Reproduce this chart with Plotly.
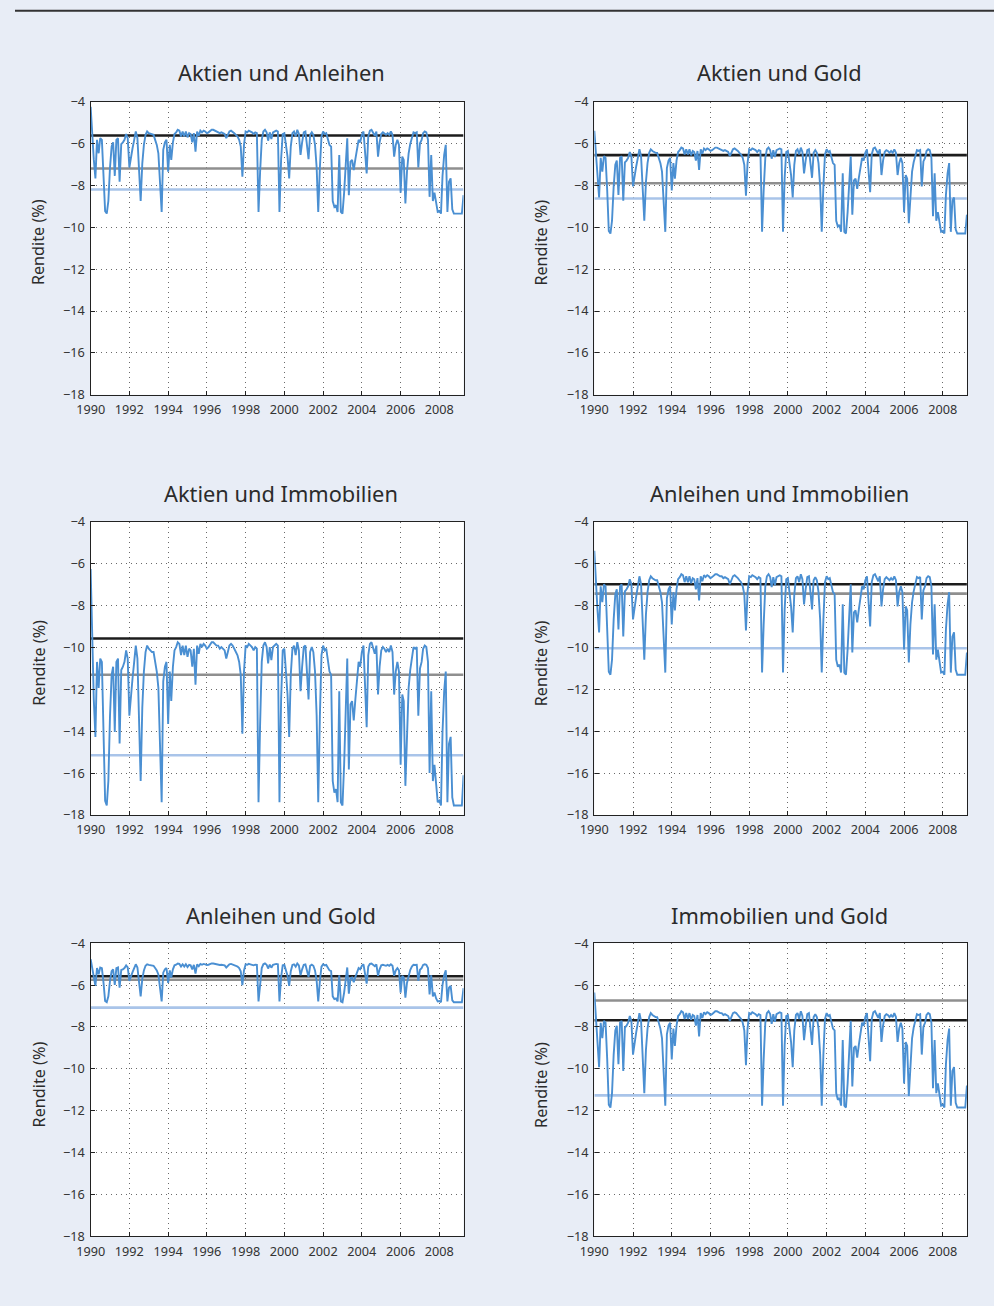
import plotly.graph_objects as go
import pandas as pd

# ---------------- data ----------------
months = pd.date_range("1990-01-01", "2009-04-01", freq="MS")  # monthly observations

titles = ["Aktien und Anleihen", "Aktien und Gold",
          "Aktien und Immobilien", "Anleihen und Immobilien",
          "Anleihen und Gold", "Immobilien und Gold"]

aktien_anleihen = [
    -4.25, -5.75, -6.75, -7.67, -5.83, -6.47, -5.75, -5.83, -7.35, -9.23, -9.35, -8.75,
    -7.15, -6.15, -5.95, -7.55, -5.83, -5.75, -7.83, -6.03, -5.95, -5.83, -5.55, -5.75,
    -7.15, -6.55, -6.23, -5.83, -5.43, -5.75, -7.35, -8.75, -6.95, -6.07, -5.59, -5.43,
    -5.51, -5.55, -5.59, -5.59, -5.83, -6.07, -6.47, -7.75, -9.27, -6.31, -5.95, -5.83,
    -7.35, -6.07, -6.79, -5.95, -5.55, -5.47, -5.35, -5.39, -5.67, -5.43, -5.67, -5.43,
    -5.71, -5.51, -5.55, -5.95, -5.51, -6.39, -5.43, -5.63, -5.39, -5.47, -5.39, -5.43,
    -5.51, -5.47, -5.39, -5.35, -5.35, -5.39, -5.43, -5.43, -5.51, -5.47, -5.51, -5.55,
    -5.75, -5.55, -5.43, -5.39, -5.43, -5.51, -5.59, -5.67, -5.83, -6.15, -7.59, -6.07,
    -5.43, -5.47, -5.39, -5.43, -5.47, -5.55, -5.47, -5.51, -9.27, -7.35, -5.83, -5.43,
    -5.35, -5.47, -5.87, -5.47, -5.79, -5.47, -5.43, -5.39, -5.43, -9.27, -6.75, -5.55,
    -5.51, -6.07, -6.63, -7.67, -6.15, -5.51, -5.43, -5.67, -5.35, -5.55, -6.55, -5.95,
    -5.47, -5.43, -6.07, -6.75, -5.59, -5.47, -5.59, -6.07, -7.15, -9.27, -7.15, -5.67,
    -5.43, -5.55, -5.51, -5.75, -6.07, -6.15, -8.75, -9.03, -8.95, -9.27, -6.55, -9.27,
    -9.35, -8.35, -6.87, -5.75, -8.47, -6.87, -6.79, -7.27, -6.75, -6.35, -5.83, -5.95,
    -5.59, -5.43, -6.23, -7.43, -5.67, -5.39, -5.35, -5.51, -5.63, -5.43, -6.63, -5.95,
    -5.55, -5.47, -5.51, -5.59, -5.51, -5.59, -5.43, -5.59, -6.63, -6.07, -5.83, -6.07,
    -8.35, -6.63, -6.79, -8.87, -7.35, -6.47, -6.03, -5.67, -5.47, -5.51, -5.47, -7.15,
    -5.99, -5.83, -5.51, -5.43, -5.47, -5.83, -8.55, -6.55, -8.75, -8.35, -8.95, -9.27,
    -9.23, -9.35, -7.55, -6.55, -6.07, -9.27, -7.83, -7.67, -9.15, -9.35, -9.35, -9.35,
    -9.35, -9.35, -9.35, -8.47]

aktien_gold = [
    -5.40, -6.61, -7.64, -8.58, -6.69, -7.35, -6.61, -6.69, -8.25, -10.18, -10.30, -9.69,
    -8.05, -7.02, -6.82, -8.46, -6.69, -6.61, -8.74, -6.90, -6.82, -6.69, -6.41, -6.61,
    -8.05, -7.43, -7.10, -6.69, -6.28, -6.61, -8.25, -9.69, -7.84, -6.94, -6.45, -6.28,
    -6.36, -6.41, -6.45, -6.45, -6.69, -6.94, -7.35, -8.66, -10.22, -7.18, -6.82, -6.69,
    -8.25, -6.94, -7.68, -6.82, -6.41, -6.32, -6.20, -6.24, -6.53, -6.28, -6.53, -6.28,
    -6.57, -6.36, -6.41, -6.82, -6.36, -7.27, -6.28, -6.49, -6.24, -6.32, -6.24, -6.28,
    -6.36, -6.32, -6.24, -6.20, -6.20, -6.24, -6.28, -6.28, -6.36, -6.32, -6.36, -6.41,
    -6.61, -6.41, -6.28, -6.24, -6.28, -6.36, -6.45, -6.53, -6.69, -7.02, -8.50, -6.94,
    -6.28, -6.32, -6.24, -6.28, -6.32, -6.41, -6.32, -6.36, -10.22, -8.25, -6.69, -6.28,
    -6.20, -6.32, -6.73, -6.32, -6.65, -6.32, -6.28, -6.24, -6.28, -10.22, -7.64, -6.41,
    -6.36, -6.94, -7.51, -8.58, -7.02, -6.36, -6.28, -6.53, -6.20, -6.41, -7.43, -6.82,
    -6.32, -6.28, -6.94, -7.64, -6.45, -6.32, -6.45, -6.94, -8.05, -10.22, -8.05, -6.53,
    -6.28, -6.41, -6.36, -6.61, -6.94, -7.02, -9.69, -9.97, -9.89, -10.22, -7.43, -10.22,
    -10.30, -9.28, -7.76, -6.61, -9.40, -7.76, -7.68, -8.17, -7.64, -7.23, -6.69, -6.82,
    -6.45, -6.28, -7.10, -8.33, -6.53, -6.24, -6.20, -6.36, -6.49, -6.28, -7.51, -6.82,
    -6.41, -6.32, -6.36, -6.45, -6.36, -6.45, -6.28, -6.45, -7.51, -6.94, -6.69, -6.94,
    -9.28, -7.51, -7.68, -9.81, -8.25, -7.35, -6.90, -6.53, -6.32, -6.36, -6.32, -8.05,
    -6.86, -6.69, -6.36, -6.28, -6.32, -6.69, -9.48, -7.43, -9.69, -9.28, -9.89, -10.22,
    -10.18, -10.30, -8.46, -7.43, -6.94, -10.22, -8.74, -8.58, -10.10, -10.30, -10.30, -10.30,
    -10.30, -10.30, -10.30, -9.40]

aktien_immobilien = [
    -6.25, -10.53, -12.48, -14.27, -10.69, -11.93, -10.53, -10.69, -13.65, -17.32, -17.55, -16.38,
    -13.26, -11.31, -10.92, -14.04, -10.69, -10.53, -14.59, -11.08, -10.92, -10.69, -10.14, -10.53,
    -13.26, -12.09, -11.47, -10.69, -9.91, -10.53, -13.65, -16.38, -12.87, -11.15, -10.22, -9.91,
    -10.06, -10.14, -10.22, -10.22, -10.69, -11.15, -11.93, -14.43, -17.39, -11.62, -10.92, -10.69,
    -13.65, -11.15, -12.56, -10.92, -10.14, -9.98, -9.75, -9.83, -10.37, -9.91, -10.37, -9.91,
    -10.45, -10.06, -10.14, -10.92, -10.06, -11.78, -9.91, -10.30, -9.83, -9.98, -9.83, -9.91,
    -10.06, -9.98, -9.83, -9.75, -9.75, -9.83, -9.91, -9.91, -10.06, -9.98, -10.06, -10.14,
    -10.53, -10.14, -9.91, -9.83, -9.91, -10.06, -10.22, -10.37, -10.69, -11.31, -14.12, -11.15,
    -9.91, -9.98, -9.83, -9.91, -9.98, -10.14, -9.98, -10.06, -17.39, -13.65, -10.69, -9.91,
    -9.75, -9.98, -10.76, -9.98, -10.61, -9.98, -9.91, -9.83, -9.91, -17.39, -12.48, -10.14,
    -10.06, -11.15, -12.25, -14.27, -11.31, -10.06, -9.91, -10.37, -9.75, -10.14, -12.09, -10.92,
    -9.98, -9.91, -11.15, -12.48, -10.22, -9.98, -10.22, -11.15, -13.26, -17.39, -13.26, -10.37,
    -9.91, -10.14, -10.06, -10.53, -11.15, -11.31, -16.38, -16.93, -16.77, -17.39, -12.09, -17.39,
    -17.55, -15.60, -12.71, -10.53, -15.83, -12.71, -12.56, -13.49, -12.48, -11.70, -10.69, -10.92,
    -10.22, -9.91, -11.47, -13.81, -10.37, -9.83, -9.75, -10.06, -10.30, -9.91, -12.25, -10.92,
    -10.14, -9.98, -10.06, -10.22, -10.06, -10.22, -9.91, -10.22, -12.25, -11.15, -10.69, -11.15,
    -15.60, -12.25, -12.56, -16.61, -13.65, -11.93, -11.08, -10.37, -9.98, -10.06, -9.98, -13.26,
    -11.00, -10.69, -10.06, -9.91, -9.98, -10.69, -15.99, -12.09, -16.38, -15.60, -16.77, -17.39,
    -17.32, -17.55, -14.04, -12.09, -11.15, -17.39, -14.59, -14.27, -17.16, -17.55, -17.55, -17.55,
    -17.55, -17.55, -17.55, -16.10]

anleihen_immobilien = [
    -5.38, -6.98, -8.18, -9.28, -7.08, -7.84, -6.98, -7.08, -8.90, -11.16, -11.30, -10.58,
    -8.66, -7.46, -7.22, -9.14, -7.08, -6.98, -9.48, -7.32, -7.22, -7.08, -6.74, -6.98,
    -8.66, -7.94, -7.56, -7.08, -6.60, -6.98, -8.90, -10.58, -8.42, -7.36, -6.79, -6.60,
    -6.69, -6.74, -6.79, -6.79, -7.08, -7.36, -7.84, -9.38, -11.20, -7.65, -7.22, -7.08,
    -8.90, -7.36, -8.23, -7.22, -6.74, -6.64, -6.50, -6.55, -6.88, -6.60, -6.88, -6.60,
    -6.93, -6.69, -6.74, -7.22, -6.69, -7.75, -6.60, -6.84, -6.55, -6.64, -6.55, -6.60,
    -6.69, -6.64, -6.55, -6.50, -6.50, -6.55, -6.60, -6.60, -6.69, -6.64, -6.69, -6.74,
    -6.98, -6.74, -6.60, -6.55, -6.60, -6.69, -6.79, -6.88, -7.08, -7.46, -9.19, -7.36,
    -6.60, -6.64, -6.55, -6.60, -6.64, -6.74, -6.64, -6.69, -11.20, -8.90, -7.08, -6.60,
    -6.50, -6.64, -7.12, -6.64, -7.03, -6.64, -6.60, -6.55, -6.60, -11.20, -8.18, -6.74,
    -6.69, -7.36, -8.04, -9.28, -7.46, -6.69, -6.60, -6.88, -6.50, -6.74, -7.94, -7.22,
    -6.64, -6.60, -7.36, -8.18, -6.79, -6.64, -6.79, -7.36, -8.66, -11.20, -8.66, -6.88,
    -6.60, -6.74, -6.69, -6.98, -7.36, -7.46, -10.58, -10.92, -10.82, -11.20, -7.94, -11.20,
    -11.30, -10.10, -8.32, -6.98, -10.24, -8.32, -8.23, -8.80, -8.18, -7.70, -7.08, -7.22,
    -6.79, -6.60, -7.56, -9.00, -6.88, -6.55, -6.50, -6.69, -6.84, -6.60, -8.04, -7.22,
    -6.74, -6.64, -6.69, -6.79, -6.69, -6.79, -6.60, -6.79, -8.04, -7.36, -7.08, -7.36,
    -10.10, -8.04, -8.23, -10.72, -8.90, -7.84, -7.32, -6.88, -6.64, -6.69, -6.64, -8.66,
    -7.27, -7.08, -6.69, -6.60, -6.64, -7.08, -10.34, -7.94, -10.58, -10.10, -10.82, -11.20,
    -11.16, -11.30, -9.14, -7.94, -7.36, -11.20, -9.48, -9.28, -11.06, -11.30, -11.30, -11.30,
    -11.30, -11.30, -11.30, -10.24]

anleihen_gold = [
    -4.77, -5.16, -5.62, -6.04, -5.19, -5.49, -5.16, -5.19, -5.90, -6.76, -6.82, -6.54,
    -5.80, -5.34, -5.25, -5.99, -5.19, -5.16, -6.12, -5.28, -5.25, -5.19, -5.06, -5.16,
    -5.80, -5.53, -5.38, -5.19, -5.01, -5.16, -5.90, -6.54, -5.71, -5.30, -5.08, -5.01,
    -5.04, -5.06, -5.08, -5.08, -5.19, -5.30, -5.49, -6.08, -6.78, -5.41, -5.25, -5.19,
    -5.90, -5.30, -5.64, -5.25, -5.06, -5.03, -4.97, -4.99, -5.12, -5.01, -5.12, -5.01,
    -5.14, -5.04, -5.06, -5.25, -5.04, -5.45, -5.01, -5.10, -4.99, -5.03, -4.99, -5.01,
    -5.04, -5.03, -4.99, -4.97, -4.97, -4.99, -5.01, -5.01, -5.04, -5.03, -5.04, -5.06,
    -5.16, -5.06, -5.01, -4.99, -5.01, -5.04, -5.08, -5.12, -5.19, -5.34, -6.01, -5.30,
    -5.01, -5.03, -4.99, -5.01, -5.03, -5.06, -5.03, -5.04, -6.78, -5.90, -5.19, -5.01,
    -4.97, -5.03, -5.21, -5.03, -5.17, -5.03, -5.01, -4.99, -5.01, -6.78, -5.62, -5.06,
    -5.04, -5.30, -5.56, -6.04, -5.34, -5.04, -5.01, -5.12, -4.97, -5.06, -5.53, -5.25,
    -5.03, -5.01, -5.30, -5.62, -5.08, -5.03, -5.08, -5.30, -5.80, -6.78, -5.80, -5.12,
    -5.01, -5.06, -5.04, -5.16, -5.30, -5.34, -6.54, -6.67, -6.64, -6.78, -5.53, -6.78,
    -6.82, -6.36, -5.67, -5.16, -6.41, -5.67, -5.64, -5.86, -5.62, -5.43, -5.19, -5.25,
    -5.08, -5.01, -5.38, -5.93, -5.12, -4.99, -4.97, -5.04, -5.10, -5.01, -5.56, -5.25,
    -5.06, -5.03, -5.04, -5.08, -5.04, -5.08, -5.01, -5.08, -5.56, -5.30, -5.19, -5.30,
    -6.36, -5.56, -5.64, -6.60, -5.90, -5.49, -5.28, -5.12, -5.03, -5.04, -5.03, -5.80,
    -5.27, -5.19, -5.04, -5.01, -5.03, -5.19, -6.45, -5.53, -6.54, -6.36, -6.64, -6.78,
    -6.76, -6.82, -5.99, -5.53, -5.30, -6.78, -6.12, -6.04, -6.73, -6.82, -6.82, -6.82,
    -6.82, -6.82, -6.82, -6.15]

immobilien_gold = [
    -6.36, -7.71, -8.86, -9.92, -7.80, -8.54, -7.71, -7.80, -9.55, -11.71, -11.85, -11.16,
    -9.32, -8.17, -7.94, -9.78, -7.80, -7.71, -10.10, -8.03, -7.94, -7.80, -7.48, -7.71,
    -9.32, -8.63, -8.26, -7.80, -7.34, -7.71, -9.55, -11.16, -9.09, -8.08, -7.53, -7.34,
    -7.43, -7.48, -7.53, -7.53, -7.80, -8.08, -8.54, -10.01, -11.76, -8.35, -7.94, -7.80,
    -9.55, -8.08, -8.91, -7.94, -7.48, -7.39, -7.25, -7.30, -7.62, -7.34, -7.62, -7.34,
    -7.66, -7.43, -7.48, -7.94, -7.43, -8.45, -7.34, -7.57, -7.30, -7.39, -7.30, -7.34,
    -7.43, -7.39, -7.30, -7.25, -7.25, -7.30, -7.34, -7.34, -7.43, -7.39, -7.43, -7.48,
    -7.71, -7.48, -7.34, -7.30, -7.34, -7.43, -7.53, -7.62, -7.80, -8.17, -9.83, -8.08,
    -7.34, -7.39, -7.30, -7.34, -7.39, -7.48, -7.39, -7.43, -11.76, -9.55, -7.80, -7.34,
    -7.25, -7.39, -7.85, -7.39, -7.76, -7.39, -7.34, -7.30, -7.34, -11.76, -8.86, -7.48,
    -7.43, -8.08, -8.72, -9.92, -8.17, -7.43, -7.34, -7.62, -7.25, -7.48, -8.63, -7.94,
    -7.39, -7.34, -8.08, -8.86, -7.53, -7.39, -7.53, -8.08, -9.32, -11.76, -9.32, -7.62,
    -7.34, -7.48, -7.43, -7.71, -8.08, -8.17, -11.16, -11.48, -11.39, -11.76, -8.63, -11.76,
    -11.85, -10.70, -9.00, -7.71, -10.84, -9.00, -8.91, -9.46, -8.86, -8.40, -7.80, -7.94,
    -7.53, -7.34, -8.26, -9.64, -7.62, -7.30, -7.25, -7.43, -7.57, -7.34, -8.72, -7.94,
    -7.48, -7.39, -7.43, -7.53, -7.43, -7.53, -7.34, -7.53, -8.72, -8.08, -7.80, -8.08,
    -10.70, -8.72, -8.91, -11.30, -9.55, -8.54, -8.03, -7.62, -7.39, -7.43, -7.39, -9.32,
    -7.99, -7.80, -7.43, -7.34, -7.39, -7.80, -10.93, -8.63, -11.16, -10.70, -11.39, -11.76,
    -11.71, -11.85, -9.78, -8.63, -8.08, -11.76, -10.10, -9.92, -11.62, -11.85, -11.85, -11.85,
    -11.85, -11.85, -11.85, -10.80]

series = [aktien_anleihen, aktien_gold, aktien_immobilien,
          anleihen_immobilien, anleihen_gold, immobilien_gold]

level_black = [-5.62, -6.56, -9.57, -6.98, -5.58, -7.68]
level_grey = [-7.20, -7.90, -11.30, -7.43, -5.75, -6.74]
level_lightblue = [-8.20, -8.63, -15.15, -10.04, -7.08, -11.27]

year_ticks = ["1990", "1992", "1994", "1996", "1998", "2000", "2002", "2004", "2006", "2008"]
y_ticks = [-18, -16, -14, -12, -10, -8, -6, -4]
y_label = "Rendite (%)"

# ---------------- layout geometry (figure pixels) ----------------
W, H = 994, 1306
col_px = [(76.8, 455.4), (588.2, 966.5)]
row_px = [(92.8, 390.2), (519.0, 816.2), (946.2, 1243.5)]
title_y_px = [63.4, 490.0, 918.5]
title_x_px = [270.5, 776.6]
ylab_x_px = [24.0, 534.2]
ylab_y_px = [235.7, 662.2, 1089.8]
FONT = "Noto Sans"

C_SERIES = "#4a8fd2"
C_BLACK = "#1c1c1c"
C_GREY = "#8f8f8f"
C_LIGHT = "#a9c4e9"

fig = go.Figure()
layout_axes = {}
annotations = []

x_start, x_end = months[0], months[-1]
tick_dates = [pd.Timestamp(t + "-01-01") for t in year_ticks]

for i, (name, ys) in enumerate(zip(titles, series)):
    r, c = divmod(i, 2)
    k = i + 1
    xa = "x" if k == 1 else f"x{k}"
    ya = "y" if k == 1 else f"y{k}"
    x0p, x1p = col_px[c]
    y0p, y1p = row_px[r]

    for lvl, col in ((level_lightblue[i], C_LIGHT), (level_grey[i], C_GREY), (level_black[i], C_BLACK)):
        fig.add_trace(go.Scatter(x=[x_start, x_end], y=[lvl, lvl], mode="lines",
                                 line=dict(color=col, width=2.6), xaxis=xa, yaxis=ya,
                                 showlegend=False, hoverinfo="skip"))
    fig.add_trace(go.Scatter(x=months, y=ys, mode="lines",
                             line=dict(color=C_SERIES, width=1.9), xaxis=xa, yaxis=ya,
                             showlegend=False, name=name))

    axis_common = dict(showline=True, mirror=True, linecolor="#222222", linewidth=1.4,
                       showgrid=True, gridcolor="#6a6a6a", gridwidth=1, griddash="1px,4px",
                       ticks="inside", ticklen=4, tickcolor="#222222", tickwidth=1,
                       zeroline=False,
                       tickfont=dict(family=FONT, size=12.7, color="#333333"))
    layout_axes["xaxis" if k == 1 else f"xaxis{k}"] = dict(
        axis_common, domain=[x0p / W, x1p / W], anchor=ya, type="date",
        range=[x_start, x_end], tickmode="array", tickvals=tick_dates, ticktext=year_ticks,
        ticklabelstandoff=3)
    layout_axes["yaxis" if k == 1 else f"yaxis{k}"] = dict(
        axis_common, domain=[1 - y1p / H, 1 - y0p / H], anchor=xa,
        range=[-18, -4], tickmode="array", tickvals=y_ticks,
        ticktext=["\u2212" + str(-v) for v in y_ticks], ticklabelstandoff=2)

    annotations.append(dict(text=name, x=title_x_px[c] / W, y=1 - title_y_px[r] / H,
                            xref="paper", yref="paper", showarrow=False,
                            xanchor="center", yanchor="middle",
                            font=dict(family=FONT, size=21.8, color="#2b2b2b")))
    annotations.append(dict(text=y_label, x=ylab_x_px[c] / W, y=1 - ylab_y_px[r] / H,
                            xref="paper", yref="paper", showarrow=False, textangle=-90,
                            xanchor="center", yanchor="middle",
                            font=dict(family=FONT, size=16.2, color="#2b2b2b")))

shapes = [
    dict(type="line", xref="paper", yref="paper", x0=0, x1=1, y0=1 - 0.8 / H, y1=1 - 0.8 / H,
         line=dict(color="#333333", width=2), layer="above"),
]

fig.update_layout(
    width=W, height=H,
    margin=dict(l=0, r=0, t=0, b=0),
    paper_bgcolor="#e8edf6",
    plot_bgcolor="white",
    showlegend=False,
    annotations=annotations,
    shapes=shapes,
    **layout_axes,
)

fig.write_html(
    "out.html",
    config={"displayModeBar": False},
    post_script="document.body.style.margin='0';document.body.style.padding='0';"
                "document.documentElement.style.overflow='hidden';",
)
